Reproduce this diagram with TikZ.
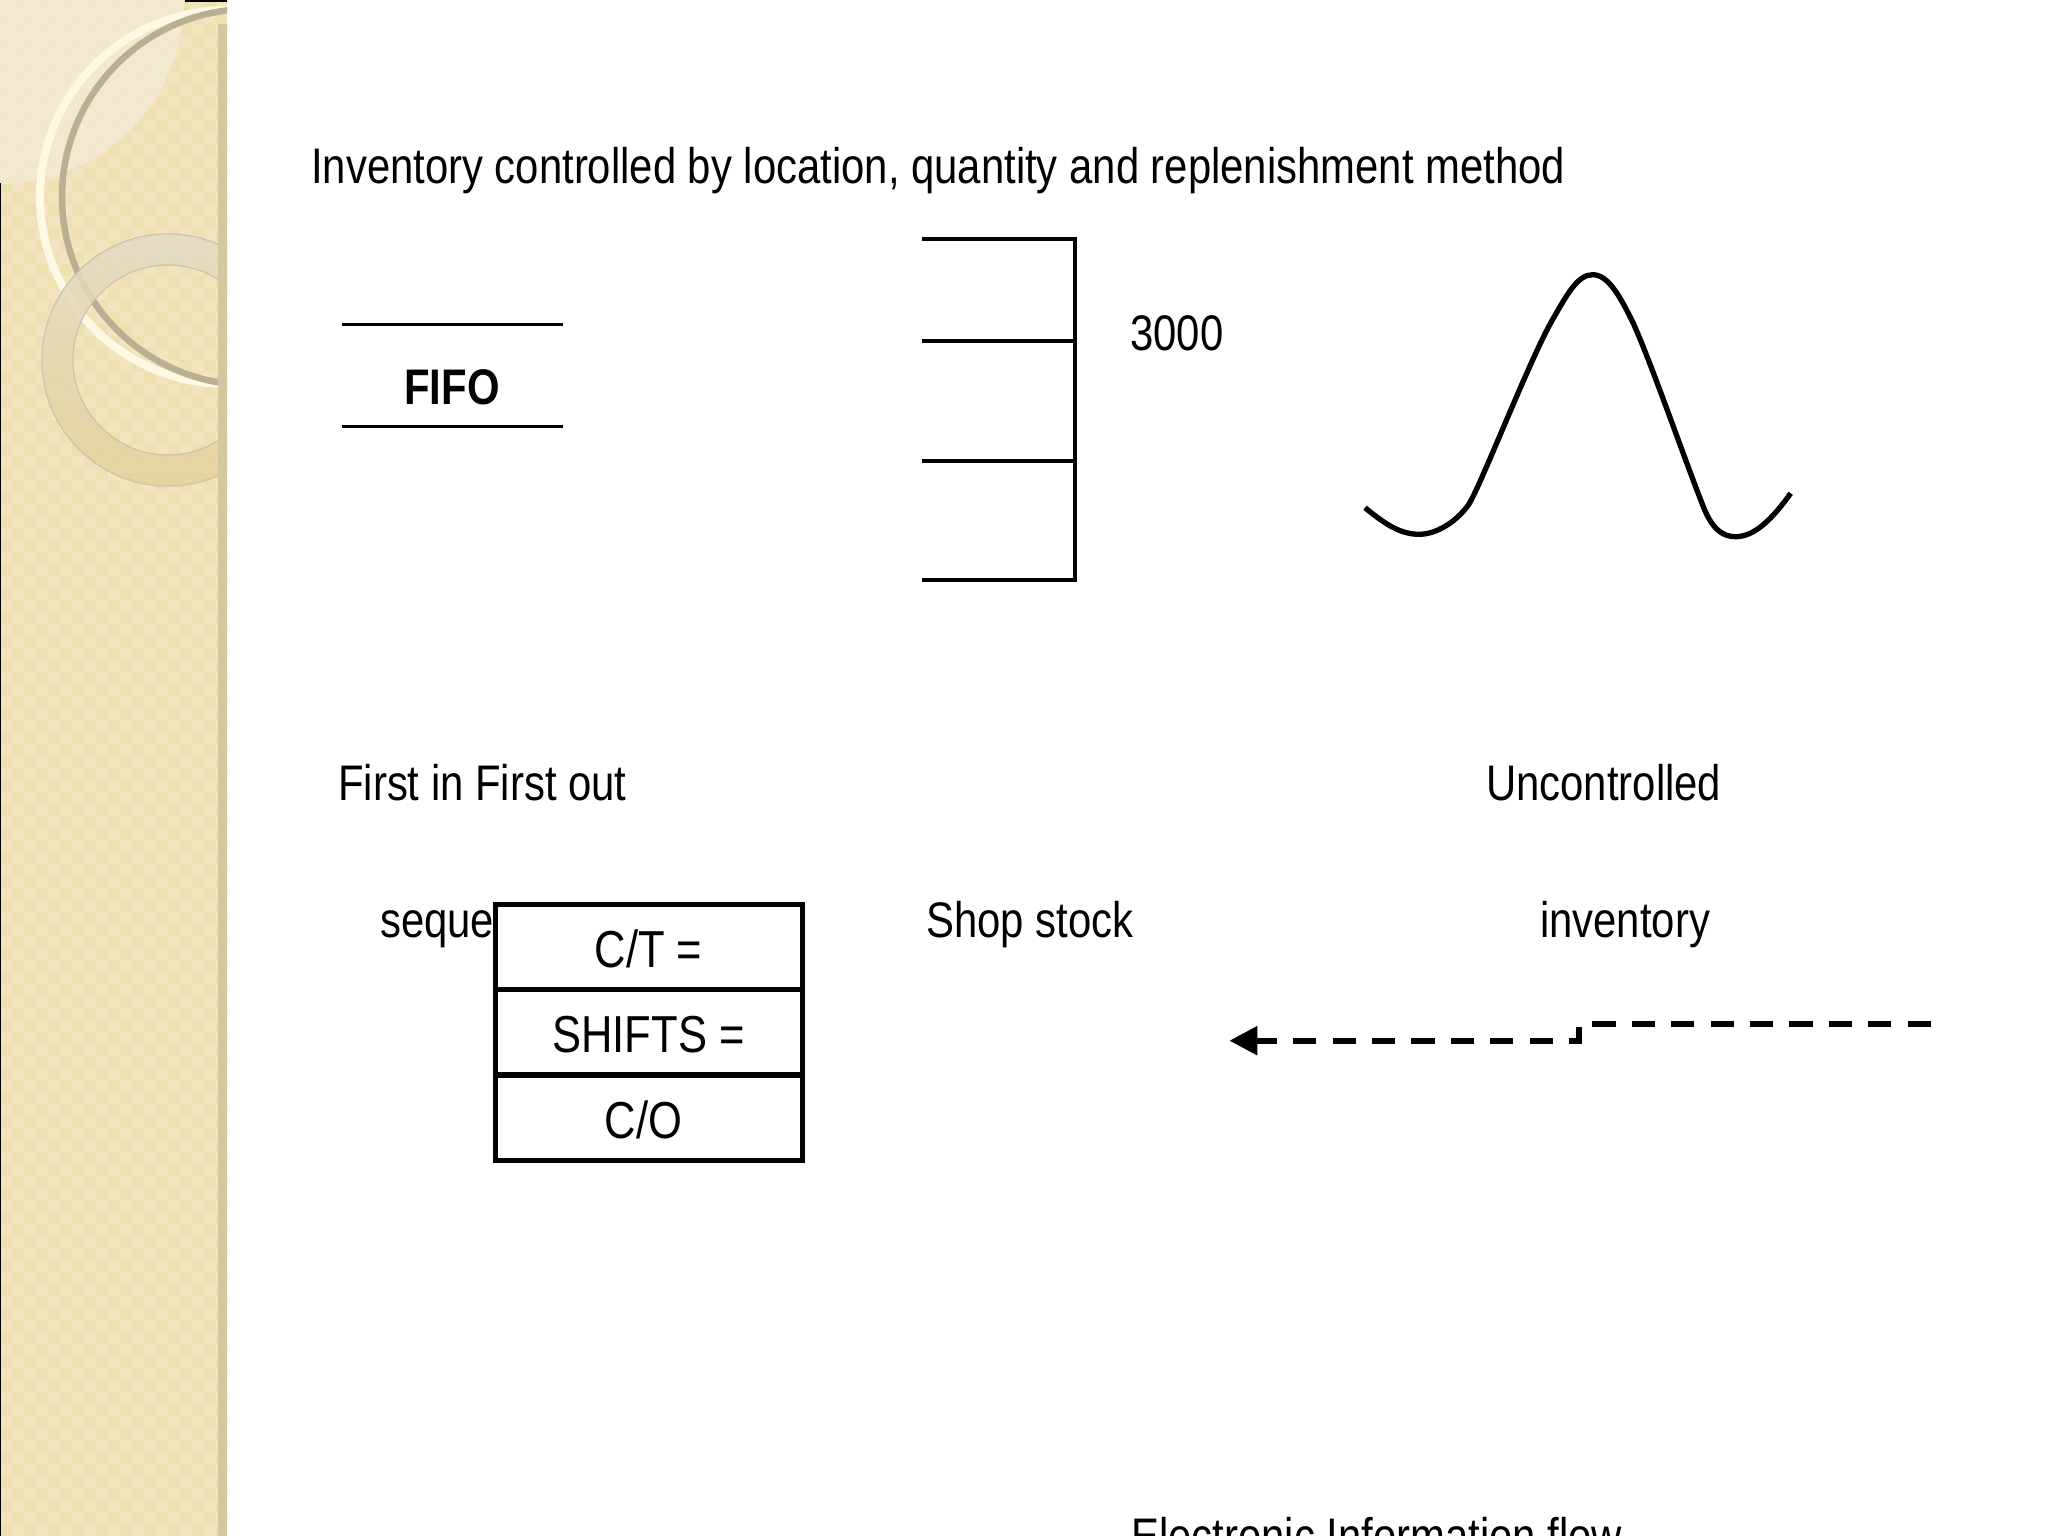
\documentclass[tikz,border=0pt]{standalone}
\usepackage{fontspec}
\setmainfont[FakeStretch=0.837]{Liberation Sans}
\usetikzlibrary{arrows.meta}
\definecolor{panelbase}{HTML}{EFE0B4}
\definecolor{panelcheck}{HTML}{F1E4BE}
\definecolor{panellight}{HTML}{F3EBD4}
\definecolor{panelstrip}{HTML}{D3C79F}
\definecolor{ringcream}{HTML}{FFF8E2}
\definecolor{ringgray}{HTML}{B9AF92}
\definecolor{ringtop}{HTML}{E3DBC3}
\definecolor{ringbot}{HTML}{E5D39C}
\tikzset{
  label/.style={anchor=base west,inner sep=0pt,font=\fontsize{50}{50}\selectfont},
  cell/.style={draw,line width=5pt,fill=white,minimum width=307pt,minimum height=85pt,
    inner sep=0pt,text height=41pt,text depth=0pt,font=\fontsize{52}{52}\selectfont},
  rule/.style={line width=3pt},
  flow/.style={line width=6.3pt,dash pattern=on 23.2pt off 16.2pt}
}
\begin{document}
\begin{tikzpicture}[x=1pt,y=-1pt]
\useasboundingbox (0,0) rectangle (2048,1536);
\clip (0,0) rectangle (2048,1536);

% side panel
\begin{scope}
\clip (0,0) rectangle (227,1536);
\fill[panelbase] (0,0) rectangle (227,1536);
\foreach \i in {0,...,18} {
\foreach \j in {0,...,128} {
\pgfmathsetmacro{\odd}{int(mod(\i+\j,2))}
\ifnum\odd=0
\fill[panelcheck] (\i*12,\j*12) rectangle ++(12,12);
\fi}}
\fill[panellight,opacity=.8] (0,0) circle (184);
\draw[ringcream,line width=8pt] (227,197) circle (187);
\draw[ringgray,line width=6.5pt] (250,197) circle (188);
% small ring, in bands from light to warm
\foreach \k in {0,...,10} {
\pgfmathsetmacro{\mixpct}{\k*10}
\begin{scope}
\clip (0,234+\k*24) rectangle (227,258+\k*24);
\fill[even odd rule,ringbot!\mixpct!ringtop,opacity=.85] (168,360) circle (126) (168,360) circle (95);
\end{scope}}
\draw[ringgray!75,line width=1.2pt] (168,360) circle (126) (168,360) circle (95);
\fill[panelstrip] (218,24) rectangle (227,1536);
\end{scope}
\fill (185,0) rectangle (227,2);
\fill (0,183) rectangle (1,1536);

\node[label] (title) at (311,183) {Inventory controlled by location, quantity and replenishment method};

% fifo lane
\coordinate (fifotopa) at (342,324);
\coordinate (fifotopb) at (563,324);
\coordinate (fifobota) at (342,426);
\coordinate (fifobotb) at (563,426);
\draw[rule] (fifotopa) -- (fifotopb);
\draw[rule] (fifobota) -- (fifobotb);
\node[inner sep=0pt,anchor=base,font=\fontsize{50}{50}\selectfont\bfseries] (fifo) at (452,404) {FIFO};

% shop stock rack
\coordinate (racka) at (922,239);
\coordinate (rackb) at (1075,239);
\coordinate (rackc) at (1075,580);
\coordinate (rackd) at (922,580);
\draw[line width=3.4pt] (racka) -- (rackb) -- (rackc) -- (rackd);
\draw[line width=3.4pt] (922,341) -- (1075,341);
\draw[line width=3.4pt] (922,461) -- (1075,461);
\node[label] (qty) at (1130,350.5) {3000};

% uncontrolled curve
\draw[line width=5.3pt] (1365,507.7) .. controls (1385,524) and (1400,534.3) .. (1419.3,534.3)
  .. controls (1437,534.3) and (1457,521) .. (1468.3,505)
  .. controls (1480,488) and (1530,358) .. (1553.3,318.3)
  .. controls (1568,292.7) and (1578,274.7) .. (1592.7,274.7)
  .. controls (1608,274.7) and (1620,296) .. (1633.3,323.3)
  .. controls (1652,365) and (1683,455) .. (1703.3,506.7)
  .. controls (1712,528.5) and (1722,536.7) .. (1735.7,536.7)
  .. controls (1755,536.7) and (1773,518) .. (1790.7,493.3);

\node[label] (fifotext) at (338,800.5) {First in First out};
\node[label] (uncontrolled) at (1486,800.5) {Uncontrolled};
\node[label] (seque) at (380,937.5) {seque};
\node[label] (shopstock) at (926,937.5) {Shop stock};
\node[label] (inventory) at (1540,937.5) {inventory};

% process data box
\node[cell] (ct) at (648.5,946.5) {C/T =};
\node[cell] (shifts) at (648.5,1031.5) {SHIFTS =};
\node[cell] (co) at (648.5,1117.5) {C/O\hspace*{10pt}};

% electronic flow
\coordinate (flowa) at (1930.7,1023.7);
\coordinate (flowb) at (1592.3,1023.7);
\coordinate (flowc) at (1578.7,1027.3);
\coordinate (flowd) at (1578.7,1040.7);
\coordinate (flowe) at (1229.3,1040.7);
\draw[flow] (flowa) -- (flowb);
\draw[flow,-{Triangle[length=28pt,width=27.7pt]}] (flowc) -- (flowd) -- (flowe);
\node[label] (flowtext) at (1131,1553) {Electronic Information flow};
\end{tikzpicture}
\end{document}
